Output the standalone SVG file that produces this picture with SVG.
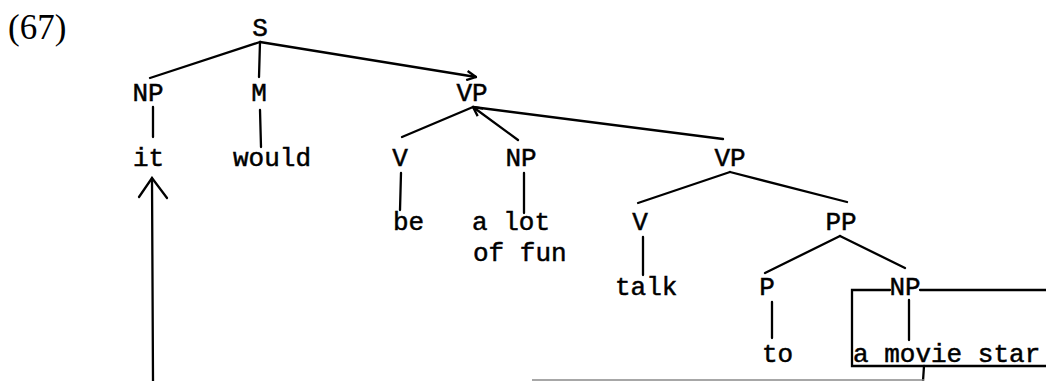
<svg xmlns="http://www.w3.org/2000/svg" width="1046" height="381" viewBox="0 0 1046 381">
<defs>
<style>
.t{font-family:"Liberation Mono","Courier New",monospace;font-size:26px;fill:#000;stroke:#000;stroke-width:0.5}
.m{text-anchor:middle}
.e{stroke:#000;stroke-width:2.3;fill:none;stroke-linecap:round;stroke-linejoin:miter}
.g{stroke:#8a8a8a;stroke-width:1.6;fill:none}
</style>
<marker id="ah" viewBox="0 0 10 10" refX="9" refY="5" markerWidth="5" markerHeight="5" orient="auto" markerUnits="strokeWidth">
<path d="M1,1 L9,5 L1,9" fill="none" stroke="#000" stroke-width="2"/>
</marker>
</defs>
<rect width="1046" height="381" fill="#fff"/>
<text x="8" y="39" style="font-family:'Liberation Serif','Times New Roman',serif;font-size:35px">(67)</text>
<g id="connectors">
<path class="e" d="M260,42 L150,78"/>
<path class="e" d="M260,42 L259,77"/>
<path class="e" d="M260,42 L476,77" marker-end="url(#ah)"/>
<path class="e" d="M153,107 L153,137"/>
<path class="e" d="M260,110 L261,147"/>
<path class="e" d="M473,107 L402,137"/>
<path class="e" d="M518,140 L473,107" marker-end="url(#ah)"/>
<path class="e" d="M473,107 L723,139"/>
<path class="e" d="M401,173 L400,210"/>
<path class="e" d="M524,173 L524,213"/>
<path class="e" d="M730,172 L638,203"/>
<path class="e" d="M730,172 L847,202"/>
<path class="e" d="M643,237 L643,275"/>
<path class="e" d="M840,236 L765,273"/>
<path class="e" d="M840,236 L905,268"/>
<path class="e" d="M772,302 L772,338"/>
<path class="e" d="M909,300 L909,340"/>
<path class="e" d="M890,290 L852,290 L852,366 L1046,366"/>
<path class="e" d="M920,290 L1046,290"/>
<path class="e" d="M924,366 L923,381"/>
<path class="g" d="M532,380 L924,380"/>
<path class="e" d="M153,381 L152,178"/>
<path class="e" d="M139,197 L152,178 L167,198"/>
</g>
<g id="n-S"><text class="t m" x="260" y="36">S</text></g>
<g id="n-NP1"><text class="t m" x="148" y="101">NP</text></g>
<g id="n-M"><text class="t m" x="259" y="101">M</text></g>
<g id="n-VP1"><text class="t m" x="472" y="101">VP</text></g>
<g id="n-it"><text class="t" x="133" y="166">it</text></g>
<g id="n-would"><text class="t" x="233" y="166">would</text></g>
<g id="n-V1"><text class="t m" x="400" y="166">V</text></g>
<g id="n-NP2"><text class="t m" x="521" y="166">NP</text></g>
<g id="n-VP2"><text class="t m" x="730" y="166">VP</text></g>
<g id="n-be"><text class="t" x="393" y="230">be</text></g>
<g id="n-alot"><text class="t" x="472" y="230">a lot</text><text class="t" x="473" y="261">of fun</text></g>
<g id="n-V2"><text class="t m" x="640" y="230">V</text></g>
<g id="n-PP"><text class="t m" x="841" y="230">PP</text></g>
<g id="n-talk"><text class="t" x="615" y="295">talk</text></g>
<g id="n-P"><text class="t m" x="767" y="295">P</text></g>
<g id="n-NP3"><text class="t m" x="905" y="295">NP</text></g>
<g id="n-to"><text class="t" x="762" y="362">to</text></g>
<g id="n-star"><text class="t" x="853" y="362">a movie star</text></g>
</svg>
